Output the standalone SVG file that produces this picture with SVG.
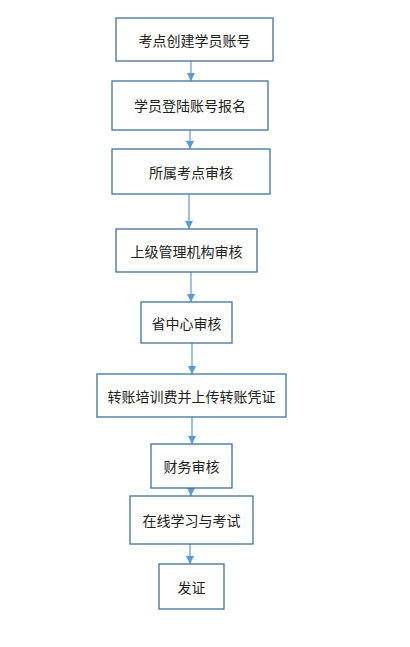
<svg xmlns="http://www.w3.org/2000/svg" width="410" height="647" viewBox="0 0 410 647">
<style>
.box{fill:#fff;stroke:#41719C;stroke-width:1.3}
.t{font-family:"Microsoft YaHei","Noto Sans CJK SC",sans-serif;font-size:14px;fill:#222;text-anchor:middle;dominant-baseline:central}
.c{stroke:#5B9BD5;stroke-width:1.2;fill:none;marker-end:url(#ah)}
</style>
<defs>
<marker id="ah" viewBox="0 0 10 10" refX="10" refY="5" markerWidth="8" markerHeight="8" markerUnits="userSpaceOnUse" orient="auto">
<path d="M0,0 L10,5 L0,10 z" fill="#5B9BD5"/>
</marker>
</defs>
<rect width="410" height="647" fill="#fff"/>
<g id="connectors">
<line class="c" x1="191" y1="61" x2="191" y2="81"/>
<line class="c" x1="190" y1="130" x2="190" y2="149"/>
<line class="c" x1="189" y1="194" x2="189" y2="229"/>
<line class="c" x1="191" y1="272" x2="191" y2="302"/>
<line class="c" x1="192" y1="343" x2="192" y2="374"/>
<line class="c" x1="192" y1="417" x2="192" y2="444"/>
<line class="c" x1="191" y1="488" x2="191" y2="496"/>
<line class="c" x1="190" y1="544" x2="190" y2="564"/>
</g>
<g id="n1"><rect class="box" x="116" y="18" width="157" height="43"/><text class="t" x="194.5" y="40">考点创建学员账号</text></g>
<g id="n2"><rect class="box" x="112" y="81" width="156" height="49"/><text class="t" x="190" y="105">学员登陆账号报名</text></g>
<g id="n3"><rect class="box" x="112" y="149" width="158" height="45"/><text class="t" x="191" y="171.5">所属考点审核</text></g>
<g id="n4"><rect class="box" x="116" y="229" width="141" height="43"/><text class="t" x="186.5" y="250.5">上级管理机构审核</text></g>
<g id="n5"><rect class="box" x="141" y="302" width="91" height="41"/><text class="t" x="186.5" y="322.5">省中心审核</text></g>
<g id="n6"><rect class="box" x="97" y="374" width="189" height="43"/><text class="t" x="191.5" y="395.5">转账培训费并上传转账凭证</text></g>
<g id="n7"><rect class="box" x="151" y="444" width="81" height="44"/><text class="t" x="191.5" y="466">财务审核</text></g>
<g id="n8"><rect class="box" x="130" y="496" width="123" height="48"/><text class="t" x="191.5" y="520">在线学习与考试</text></g>
<g id="n9"><rect class="box" x="159" y="564" width="65" height="45"/><text class="t" x="191.5" y="586.5">发证</text></g>
</svg>
